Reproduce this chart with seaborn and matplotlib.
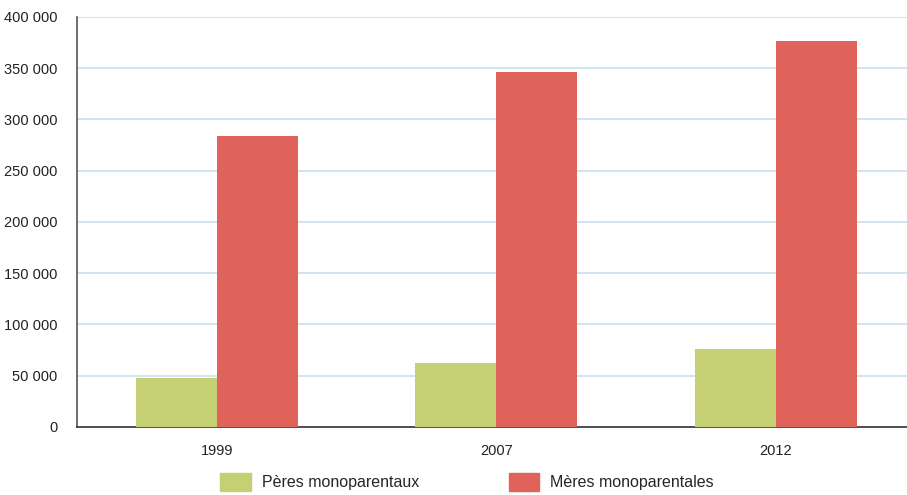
import pandas as pd
import matplotlib
matplotlib.use("Agg")
import matplotlib.pyplot as plt
import seaborn as sns
from matplotlib.ticker import FuncFormatter

# données
annees = ["1999", "2007", "2012"]
peres = [48000, 62000, 76000]
meres = [284000, 346000, 377000]
series = ["Pères monoparentaux", "Mères monoparentales"]

df = pd.DataFrame({
    "annee": annees * 2,
    "valeur": peres + meres,
    "type": [series[0]] * 3 + [series[1]] * 3,
})

sns.set_style("white")
plt.rcParams['font.family'] = ['Liberation Sans', 'DejaVu Sans']

fig = plt.figure(figsize=(9.07, 4.95), dpi=100)
ax = fig.add_axes([0.085, 0.1374, 0.915, 0.8283])

sns.barplot(data=df, x="annee", y="valeur", hue="type",
            palette=["#c5cf74", "#df635b"], width=0.58, saturation=1,
            linewidth=0, ax=ax, legend=False, zorder=3)

ax.set_ylim(0, 400000)
ax.set_xlim(-0.5, 2.47)
ax.set_yticks(range(0, 400001, 50000))
ax.yaxis.set_major_formatter(FuncFormatter(lambda v, p: f"{int(v):,}".replace(",", " ")))
ax.grid(axis="y", color="#c8e0ee", linewidth=1.2, zorder=0)
ax.set_axisbelow(True)
ax.set_xlabel("")
ax.set_ylabel("")
ax.tick_params(axis="both", length=0, labelsize=10.5, colors="#222222")
ax.tick_params(axis="y", pad=14)
ax.tick_params(axis="x", pad=12)

for s in ["top", "right"]:
    ax.spines[s].set_visible(False)
ax.spines["left"].set_color("#555555")
ax.spines["bottom"].set_color("#333333")
ax.spines["left"].set_linewidth(1.2)
ax.spines["bottom"].set_linewidth(1.2)

handles = [plt.Rectangle((0, 0), 1, 1, color=c) for c in ["#c5cf74", "#df635b"]]
fig.legend(handles, series, loc="lower center", bbox_to_anchor=(0.515, -0.02),
           ncol=2, frameon=False, fontsize=11.5, handlelength=1.9, handleheight=1.35,
           columnspacing=5.6, handletextpad=0.7)

fig.savefig("out.png", dpi=100)
